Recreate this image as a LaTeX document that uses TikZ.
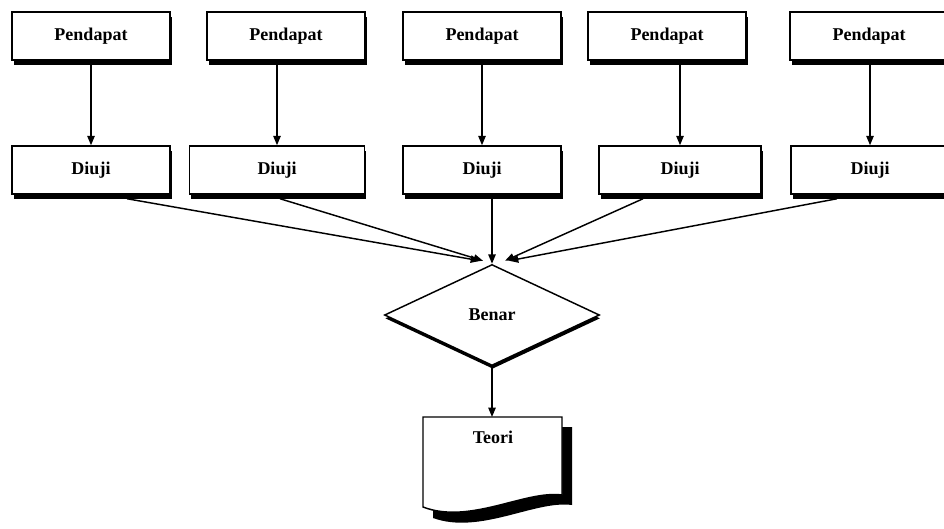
\documentclass[tikz,border=0pt]{standalone}
\usepackage{fontspec}
\setmainfont{Liberation Serif}
\usetikzlibrary{shapes.geometric,positioning,calc,arrows.meta,shadows}

\begin{document}
\begin{tikzpicture}[x=0.75pt, y=-0.75pt,
  kotak/.style={draw, line width=1.1pt, fill=white, minimum height=36pt, inner sep=0pt,
    font=\fontsize{13.5}{15}\selectfont\bfseries,
    drop shadow={shadow xshift=1.2pt, shadow yshift=-3.5pt, fill=black, opacity=1}},
  panah/.style={line width=1.1pt, -{Triangle[length=7pt, width=5.5pt]}}]
  \useasboundingbox (0,0) rectangle (944,528);

  % Pendapat row
  \node[kotak, minimum width=118.5pt] (p1) at (91,36) {Pendapat};
  \node[kotak, minimum width=118.5pt] (p2) at (286,36) {Pendapat};
  \node[kotak, minimum width=118.5pt] (p3) at (482,36) {Pendapat};
  \node[kotak, minimum width=118.5pt] (p4) at (667,36) {Pendapat};
  \node[kotak, minimum width=118.5pt] (p5) at (869,36) {Pendapat};

  % Diuji row
  \node[kotak, minimum width=118.5pt] (d1) at (91,170) {Diuji};
  \node[kotak, minimum width=131.25pt] (d2) at (277,170) {Diuji};
  \node[kotak, minimum width=118.5pt] (d3) at (482,170) {Diuji};
  \node[kotak, minimum width=121.5pt] (d4) at (680,170) {Diuji};
  \node[kotak, minimum width=118.5pt] (d5) at (870,170) {Diuji};

  \draw[panah] (p1.south -| d1.north) -- (d1.north);
  \draw[panah] (p2.south -| d2.north) -- (d2.north);
  \draw[panah] (p3.south -| d3.north) -- (d3.north);
  \draw[panah] (p4.south -| d4.north) -- (d4.north);
  \draw[panah] (p5.south -| d5.north) -- (d5.north);

  % Decision
  \node[draw, line width=1.1pt, diamond, fill=white, minimum width=161.25pt, minimum height=75.75pt,
    inner sep=0pt, font=\fontsize{13.5}{15}\selectfont\bfseries,
    drop shadow={shadow xshift=0.5pt, shadow yshift=-2.5pt, fill=black, opacity=1}] (benar) at (492,315) {Benar};

  \draw[panah] ($(d1.south)+(36,4)$) -- ($(benar.north)+(-12,-3)$);
  \draw[panah] ($(d2.south)+(3,4)$) -- ($(benar.north)+(-9,-3)$);
  \draw[panah] (d3.south -| benar.north) -- (benar.north);
  \draw[panah] ($(d4.south)+(-37,4)$) -- ($(benar.north)+(13,-3)$);
  \draw[panah] ($(d5.south)+(-33,4)$) -- ($(benar.north)+(17,-3)$);

  % Document Teori
  \coordinate (atas) at (492,417);
  \fill[black] (433,427) -- (572,427) -- (572,505) .. controls (535,500) and (480,535) .. (433,518) -- cycle;
  \draw[line width=1.1pt, fill=white] (423,417) -- (562,417) -- (562,495) .. controls (525,490) and (470,525) .. (423,507) -- cycle;
  \node[font=\fontsize{13.5}{15}\selectfont\bfseries] (teori) at (493,437) {Teori};
  \draw[panah] (benar.south) -- (atas);
\end{tikzpicture}
\end{document}
